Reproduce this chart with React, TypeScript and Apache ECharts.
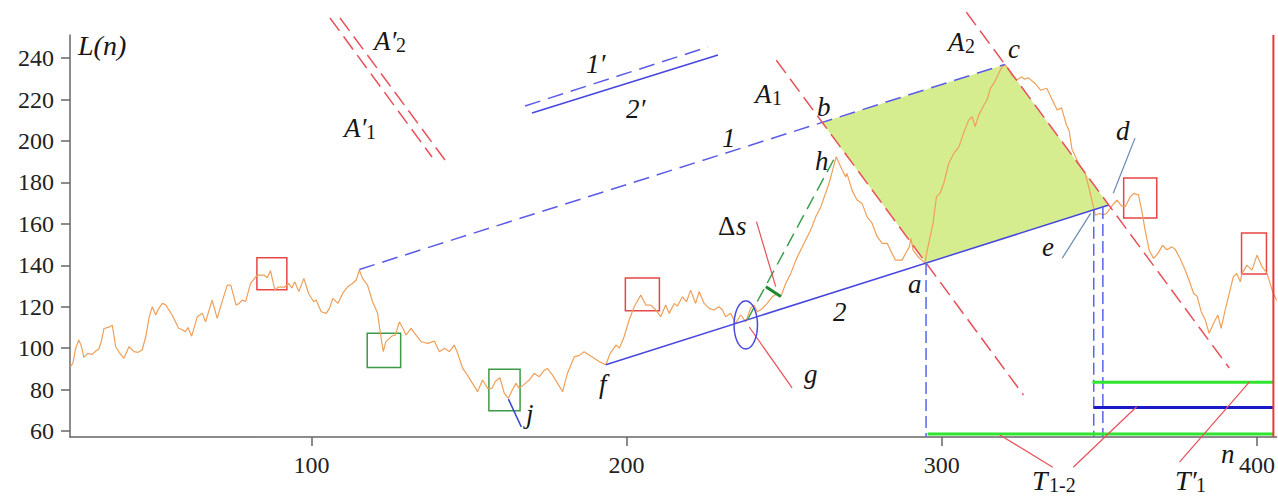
import { useEffect, useRef } from "react";
import * as echarts from "echarts";

// L(n) series: [n, L]
const levelSeries: [number, number][] = [
  [23.5, 91], [24.3, 92.7], [25.2, 100], [26.2, 103.9], [27, 101], [27.8, 95.5], [29, 97.5], [30.5, 97],
  [31.5, 98.5], [32.5, 99.5], [33.3, 103], [34.2, 109.5], [35.5, 110], [36.8, 111.1], [37.9, 100.7], [39, 98],
  [40.5, 95.1], [42.1, 100.7], [43.7, 98.3], [45, 98], [46.3, 99.1], [47.5, 106], [48.5, 115], [49.5, 120],
  [50.6, 116], [51.5, 119], [52.7, 121.6], [53.7, 121], [55.8, 116], [57.9, 109.5], [59, 109], [60, 107.9],
  [60.8, 110], [62, 105.8], [63.8, 115.2], [65.4, 116.8], [66.4, 112.7], [68.5, 123.2], [70.1, 114.4],
  [71.5, 121.6], [73.3, 130.4], [74.4, 130.4], [76.1, 120.8], [77, 121.5], [78, 123.2], [79.1, 122.5],
  [80.7, 131.3], [82.8, 135.3], [84.9, 135.3], [86, 134], [87, 137.4], [88.4, 128], [89.5, 129.5],
  [91.5, 129.5], [92.8, 131.3], [93.8, 129], [94.7, 132.1], [96, 127.3], [97.6, 133.7], [99.1, 126.4],
  [100.7, 122.4], [101.5, 123.2], [103.1, 117.6], [104.7, 116.8], [105.7, 119.2], [106.8, 124], [108.4, 121.6],
  [109.9, 126.4], [111.5, 129.6], [113, 131.2], [114.2, 132.9], [115.2, 137.7], [116.2, 133.7], [117.8, 130.4],
  [119.4, 122.4], [121, 116.8], [121.8, 107.9], [122.8, 98.3], [123.6, 103], [124.7, 104.7], [125.7, 106],
  [126.6, 106.3], [127.9, 112.7], [128.9, 110], [130, 106.3], [131.6, 109.5], [133.2, 106.3], [134.8, 103.1],
  [136.9, 102.3], [139, 103.4], [140.6, 98.3], [142.2, 99.9], [143.8, 98.3], [145.3, 101.5], [146.4, 97.5],
  [148, 90.2], [149.5, 87], [151.1, 83], [152.7, 79], [154.3, 84.6], [155.9, 80.6], [157.3, 80.6], [158.4, 84],
  [159.8, 85.7], [161.2, 78.2], [162.5, 75.8], [163.8, 80], [164.9, 83], [165.9, 80.6], [167.5, 82.5],
  [169.1, 84.6], [170.7, 87.8], [172.3, 86.2], [173.9, 89.4], [174.9, 90.2], [176.5, 87], [178.1, 83],
  [179.7, 79], [181.2, 87.8], [183.4, 95.8], [185, 96.5], [186.5, 98.3], [188.1, 96.7], [189.7, 95.1],
  [191.3, 93.5], [193.4, 92], [194.8, 97.5], [196.6, 101.5], [197.7, 100], [199.2, 105.5], [200.8, 113.6],
  [202.4, 120], [204.5, 125.6], [206.1, 120.8], [207.7, 120.8], [209.3, 118.4], [210.8, 115.2], [212.4, 120.8],
  [213.5, 116.8], [215.1, 121.6], [216.1, 120.3], [217.7, 124.8], [219, 122.4], [220.3, 128], [221.9, 121.6],
  [223, 127.3], [224.6, 121.6], [226.2, 119.2], [227.7, 118.4], [229.3, 120], [230.4, 118.4], [231.4, 115.2],
  [233, 116.8], [234.6, 112], [236.2, 116], [237.8, 112.7], [239.3, 119.2], [240.4, 120.8], [241.5, 117.6],
  [243.1, 119.2], [244.6, 121.6], [246.2, 124.8], [247.8, 126.4], [248.9, 124.8], [250.5, 131.3],
  [252.1, 136.1], [253.7, 142.5], [255.2, 147.3], [256.8, 152.2], [258.4, 157], [260, 163.4], [261.6, 168.2],
  [263.1, 174.7], [264.2, 179.5], [265.2, 185.1], [266.5, 192.4], [267.9, 187.6], [269.5, 182.7],
  [269.9, 184.4], [271.5, 176.3], [273.1, 171.5], [274.7, 169.9], [276.3, 163.4], [277.9, 160.2],
  [279.5, 153.8], [281.1, 150.6], [282.7, 150.6], [283.7, 147.3], [285.3, 142.5], [287.4, 142.5],
  [288.5, 145.7], [289.7, 148.9], [290.2, 153], [290.9, 147.3], [292.5, 144.1], [294.6, 141.2],
  [295.6, 148.9], [297.2, 160.2], [298.3, 173.1], [299.4, 174.7], [300.6, 179.5], [302.2, 189.2],
  [303.8, 194], [305.4, 197.2], [306.9, 203.7], [308.5, 210.1], [309.6, 211.7], [310.6, 207], [311.7, 212.5],
  [313.3, 217.3], [314.3, 219.7], [315.4, 225.4], [316.5, 227.8], [317.8, 231.8], [318.8, 235], [320, 237],
  [321, 235], [322.2, 231.8], [323.8, 229.5], [325.4, 231], [326.1, 229.9], [327.5, 230.5], [329.6, 227.8],
  [331.4, 224.5], [333.3, 225.5], [335, 220], [336.6, 215], [338, 216], [339.5, 208], [340.4, 205],
  [341.3, 196], [343.4, 189.2], [345.5, 184.4], [346.6, 177.9], [347.6, 171.5], [348.7, 164.2], [350, 165],
  [351.2, 164.5], [352.3, 165], [353.9, 168.6], [355.6, 171.5], [356.9, 168.8], [358.2, 168.3],
  [359.8, 173.1], [360.9, 174.7], [362.4, 174], [363.5, 165.9], [364.5, 157], [365.8, 147.3], [367.2, 143.3],
  [368.7, 146], [370, 149.7], [371.4, 147.5], [373, 148.9], [374, 147.8], [375.6, 143.3], [377.2, 137.7],
  [378.8, 131.3], [379.9, 126.4], [381, 125], [382.3, 117.6], [383.6, 113.6], [384.8, 107.1], [386.2, 112],
  [387.6, 116], [388.6, 109.5], [389.9, 118.4], [391.2, 126.4], [392.5, 134.5], [393.6, 136.1], [394.7, 132],
  [395.2, 136], [396.8, 140.1], [398.4, 137.7], [400, 144.9], [401.6, 139.3], [403.2, 136.1], [404.8, 128],
  [406.2, 123],
];

const xTicks = [100, 200, 300, 400];
const yTicks = [60, 80, 100, 120, 140, 160, 180, 200, 220, 240];

// geometric constructions in data coordinates
const rhombus = [[295, 141.1], [353, 169.1], [320, 237], [262, 209]];
const line1 = [[115.2, 138], [320, 237]];
const line2 = [[193.4, 92], [353, 169.1]];
const lineA1 = [[247.5, 239], [325.9, 77.4]];
const lineA2 = [[307.8, 262.2], [391.2, 90.4]];
const vertA = [[295, 141.1], [295, 57.1]];
const vertE1 = [[348.2, 166.8], [348.2, 57.1]];
const vertE2 = [[351.1, 168.2], [351.1, 57.1]];
const greenBottom = [[295.5, 58.6], [405.2, 58.6]];
const greenUpper = [[347.8, 83.5], [405.2, 83.5]];
const blueMid = [[348.2, 71.4], [405.2, 71.4]];
const redRight = [[405.2, 251.2], [405.2, 57.1]];
const greenDash = [[238.3, 113.6], [266.5, 193.3]];
const deltaTick = [[244.2, 129.7], [248.9, 124.9]];
const leaderDs = [[241.2, 161.1], [247.3, 129.7]];
const leaderG = [[238.9, 110.2], [252.5, 80.8]];
const leaderT12a = [[318.4, 58.1], [335.2, 42.5]];
const leaderT12b = [[341.7, 42.5], [361.8, 71.7]];
const leaderT1 = [[375.4, 45], [397.7, 83.8]];
const leaderD = [[361.3, 201.4], [354.4, 174.8]];
const leaderE = [[338.2, 143.4], [347.2, 165.1]];
const leaderJ = [[162.5, 75.4], [166.6, 61.9]];
const ellipseCenter = [237.8, 111.2];

const redBoxes = [
  [[82.7, 143.6], [92.2, 128.2]],
  [[199.6, 133.9], [210.4, 118]],
  [[357.7, 182.2], [368.2, 162.8]],
  [[395.1, 155.6], [403, 135.8]],
];
const greenBoxes = [
  [[117.7, 107.2], [128.3, 90.6]],
  [[156.3, 89.8], [166.2, 69.8]],
];

const RED = "#e8505a";
const SERIF = "Liberation Serif";

function seg(data: number[][], color: string, width: number, dash?: number[], z = 5) {
  return {
    type: "line",
    data,
    symbol: "none",
    showSymbol: false,
    silent: true,
    clip: false,
    z,
    lineStyle: { color, width, type: dash ? dash : "solid" },
  };
}

function label(text: string, x: number, base: number, size = 27, italic = true) {
  return {
    type: "text",
    x,
    y: base - 0.34 * size,
    z: 100,
    style: {
      text,
      fontSize: size,
      fontStyle: italic ? "italic" : "normal",
      fontFamily: SERIF,
      fill: "#161616",
      align: "left",
      verticalAlign: "middle",
    },
  };
}

function pxLine(x1: number, y1: number, x2: number, y2: number, stroke: string, dash?: number[]) {
  return {
    type: "line",
    z: 50,
    shape: { x1, y1, x2, y2 },
    style: { stroke, lineWidth: 1.5, lineDash: dash },
  };
}

export default function App() {
  const ref = useRef<HTMLDivElement>(null);
  useEffect(() => {
    const chart = echarts.init(ref.current!, null, { renderer: "svg" });
    const boxArea = [
      ...redBoxes.map((b) => [
        { coord: b[0], itemStyle: { color: "rgba(0,0,0,0)", borderColor: "#e84545", borderWidth: 1.5 } },
        { coord: b[1] },
      ]),
      ...greenBoxes.map((b) => [
        { coord: b[0], itemStyle: { color: "rgba(0,0,0,0)", borderColor: "#3c9a46", borderWidth: 1.5 } },
        { coord: b[1] },
      ]),
    ];
    chart.setOption({
      animation: false,
      textStyle: { fontFamily: SERIF },
      grid: { left: 70, right: 0, top: 35, bottom: 61 },
      xAxis: {
        type: "value",
        min: 23.4,
        max: 406.2,
        splitLine: { show: false },
        axisLine: { show: true, onZero: false, lineStyle: { color: "#666", width: 1.5 } },
        axisTick: { show: true, customValues: xTicks, length: 9, lineStyle: { color: "#666", width: 1.5 } },
        axisLabel: { customValues: xTicks, fontFamily: SERIF, fontSize: 24, color: "#222", margin: 16 },
      },
      yAxis: {
        type: "value",
        min: 57.1,
        max: 251.2,
        splitLine: { show: false },
        axisLine: { show: true, onZero: false, lineStyle: { color: "#666", width: 1.5 } },
        axisTick: { show: true, customValues: yTicks, length: 9, lineStyle: { color: "#666", width: 1.5 } },
        axisLabel: { customValues: yTicks, fontFamily: SERIF, fontSize: 24, color: "#222", margin: 16 },
      },
      series: [
        {
          type: "custom",
          z: 1,
          silent: true,
          data: [[300, 150]],
          renderItem: (_p: any, api: any) => ({
            type: "polygon",
            shape: { points: rhombus.map((p) => api.coord(p)) },
            style: { fill: "#d5ed8f" },
          }),
        },
        {
          type: "line",
          data: levelSeries,
          symbol: "none",
          showSymbol: false,
          silent: true,
          z: 4,
          lineStyle: { color: "#eea05a", width: 1.2 },
          markArea: { silent: true, label: { show: false }, data: boxArea },
        },
        seg(line1, "#5b5be8", 1.5, [16, 8]),
        seg(line2, "#4646e0", 1.5),
        seg(lineA1, RED, 1.5, [16, 7]),
        seg(lineA2, RED, 1.5, [16, 7]),
        seg(vertA, "#5566ee", 1.5, [12, 5]),
        seg(vertE1, "#5566ee", 1.5, [12, 5]),
        seg(vertE2, "#5566ee", 1.5, [12, 5]),
        seg(greenBottom, "#2ee62e", 3),
        seg(greenUpper, "#2ee62e", 3),
        seg(blueMid, "#1a1acc", 3),
        seg(redRight, "#e83a3a", 2),
        seg(greenDash, "#3f9f4f", 1.5, [14, 7]),
        seg(deltaTick, "#1c8a2c", 3),
        seg(leaderDs, RED, 1.2),
        seg(leaderG, RED, 1.2),
        seg(leaderT12a, RED, 1.2),
        seg(leaderT12b, RED, 1.2),
        seg(leaderT1, RED, 1.2),
        seg(leaderD, "#6a88b0", 1.2),
        seg(leaderE, "#6a88b0", 1.2),
        seg(leaderJ, "#3344cc", 1.5),
        {
          type: "custom",
          z: 6,
          silent: true,
          data: [[300, 150]],
          renderItem: (_p: any, api: any) => {
            const c = api.coord(ellipseCenter);
            const pts: number[][] = [];
            for (let k = 0; k < 72; k++) {
              const t = (k / 72) * Math.PI * 2;
              pts.push([c[0] + 11.7 * Math.cos(t), c[1] + 24 * Math.sin(t)]);
            }
            return { type: "polygon", shape: { points: pts }, style: { fill: "none", stroke: "#4a4ae0", lineWidth: 1.5 } };
          },
        },
      ],
      graphic: [
        pxLine(330, 18, 432, 157, RED, [16, 7]),
        pxLine(340, 18, 445, 160, RED, [16, 7]),
        pxLine(525, 106, 708, 47, "#5b5be8", [16, 8]),
        pxLine(532, 113, 718, 55, "#4646e0"),
        label("L(n)", 78, 55, 28),
        label("A′", 374, 50), label("2", 396, 52, 20, false),
        label("A′", 344, 137), label("1", 366, 139, 20, false),
        label("1′", 586, 73),
        label("2′", 626, 118),
        label("1", 722, 147),
        label("A", 755, 103), label("1", 772, 105, 20, false),
        label("b", 817, 116),
        label("h", 815, 170),
        label("A", 948, 51), label("2", 965, 53, 20, false),
        label("c", 1008, 58),
        label("d", 1116, 140),
        label("e", 1042, 256),
        label("a", 908, 293),
        label("2", 833, 321),
        label("g", 804, 383),
        label("Δ", 718, 235, 27, false), label("s", 736, 235),
        label("f", 599, 393),
        label("j", 526, 423),
        label("T", 1032, 490, 28), label("1-2", 1049, 492, 20, false),
        label("T′", 1175, 490, 28), label("1", 1196, 492, 20, false),
        label("n", 1221, 463),
      ],
    });
    return () => chart.dispose();
  }, []);
  return <div ref={ref} style={{ position: "absolute", left: 0, top: 0, width: 1278, height: 498 }} />;
}
